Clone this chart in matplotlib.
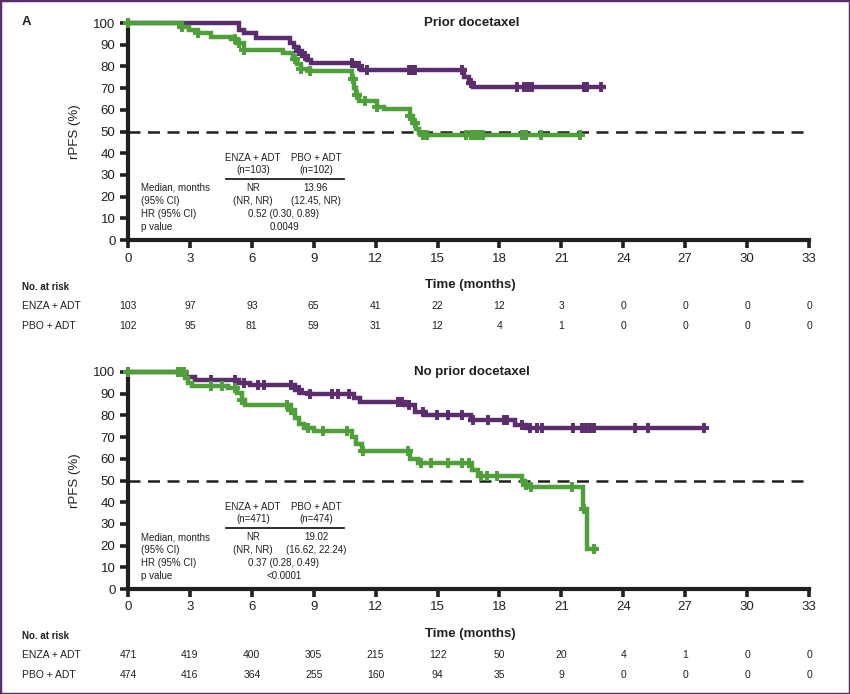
import numpy as np
import matplotlib
matplotlib.use("Agg")
import matplotlib.pyplot as plt
from matplotlib.patches import Rectangle

plt.rcParams['font.family'] = ['Liberation Sans', 'DejaVu Sans']

W, H = 850, 694
PURPLE = '#5c2d6e'
GREEN = '#4f9f3b'
INK = '#231f20'

months = [0, 3, 6, 9, 12, 15, 18, 21, 24, 27, 30, 33]
yticks = [0, 10, 20, 30, 40, 50, 60, 70, 80, 90, 100]

# ---- Prior docetaxel ----
enza1_t = [0, 5.4, 5.6, 6.2, 7.85, 8.05, 8.25, 8.45, 8.65, 8.85, 11.0, 11.3, 16.3, 16.5, 16.7]
enza1_s = [100, 97, 95.5, 93, 91, 89, 87, 85, 83, 81.5, 80, 78.5, 75, 72.5, 70.5]
enza1_end = 23.0
enza1_cens = [0, 8.3, 8.6, 10.85, 11.2, 11.6, 13.6, 13.75, 13.9, 16.2, 16.6, 18.85,
              19.2, 19.4, 19.6, 22.1, 22.25, 22.9]

pbo1_t = [0, 2.6, 2.95, 3.4, 4.0, 5.0, 5.3, 5.6, 7.5, 8.0, 8.2, 8.4, 8.8, 10.85, 10.95,
          11.05, 11.2, 12.05, 12.4, 13.65, 13.8, 13.95, 14.1, 14.25]
pbo1_s = [100, 98, 96.8, 95.2, 93.5, 92.5, 91, 87.5, 86, 83.5, 81, 79, 78, 74, 70,
          67, 64, 61.5, 60.2, 57, 54, 51, 49.5, 48.5]
pbo1_end = 21.9
pbo1_cens = [0, 2.6, 3.4, 5.2, 5.4, 5.6, 8.1, 8.4, 8.8, 10.9, 11.1, 11.5, 12.05, 13.65,
             13.9, 14.3, 14.5, 16.4, 16.6, 16.8, 17.0, 17.2, 19.1, 19.3, 20.0, 21.9]

risk1_enza = [103, 97, 93, 65, 41, 22, 12, 3, 0, 0, 0, 0]
risk1_pbo = [102, 95, 81, 59, 31, 12, 4, 1, 0, 0, 0, 0]
stats1 = ['(n=103)', '(n=102)', 'NR', '13.96', '(NR, NR)', '(12.45, NR)',
          '0.52 (0.30, 0.89)', '0.0049']

# ---- No prior docetaxel ----
enza2_t = [0, 2.8, 3.25, 5.4, 5.9, 8.1, 8.4, 8.8, 10.95, 11.25, 13.4, 13.9, 14.4,
           16.6, 18.75, 19.3]
enza2_s = [100, 97.7, 96.3, 95, 94, 91.7, 90.5, 90, 88, 86, 84.8, 81.5, 80.2,
           78, 75.6, 74]
enza2_end = 27.9
enza2_cens = [0, 2.5, 4.0, 5.2, 5.6, 6.3, 6.6, 7.9, 8.3, 8.8, 9.9, 10.2, 10.7, 13.1,
              13.3, 13.6, 14.3, 14.95, 15.5, 16.2, 16.7, 17.45, 18.2, 18.35, 19.1,
              19.5, 19.8, 20.05, 21.55, 22.0, 22.2, 22.4, 22.6, 24.55, 25.2, 27.9]

pbo2_t = [0, 2.75, 2.9, 3.1, 4.85, 5.3, 5.5, 5.67, 7.9, 8.1, 8.3, 8.55, 9.0, 10.85,
          11.05, 11.35, 13.65, 14.05, 16.65, 16.95, 19.1, 19.25, 19.5, 22.05, 22.25]
pbo2_s = [100, 97.2, 95, 93.5, 92.6, 90.3, 87, 84.8, 82.5, 79, 76, 74, 72.8, 70,
          67, 63.5, 60, 58, 55, 52, 50, 48, 47, 37, 18.5]
pbo2_end = 22.65
pbo2_cens = [0, 2.4, 2.55, 2.7, 4.0, 4.55, 5.2, 5.5, 7.7, 7.9, 8.7, 9.45, 10.6, 11.4,
             13.55, 14.2, 14.7, 15.5, 16.2, 16.5, 17.1, 17.4, 17.9, 19.3, 19.55,
             21.5, 22.1, 22.6]

risk2_enza = [471, 419, 400, 305, 215, 122, 50, 20, 4, 1, 0, 0]
risk2_pbo = [474, 416, 364, 255, 160, 94, 35, 9, 0, 0, 0, 0]
stats2 = ['(n=471)', '(n=474)', 'NR', '19.02', '(NR, NR)', '(16.62, 22.24)',
          '0.37 (0.28, 0.49)', '<0.0001']

row_labels = ['Median, months', '(95% CI)', 'HR (95% CI)', 'p value']


def fx(px):
    return px / W


def fy(py):
    return 1 - py / H


def km(ax, t, s, end, cens, color):
    t = np.asarray(t, float)
    s = np.asarray(s, float)
    tt = np.append(t, end)
    ss = np.append(s, s[-1])
    ax.step(tt, ss, where='post', color=color, lw=3.2, clip_on=False, zorder=3,
            solid_joinstyle='miter')
    c = np.asarray(cens, float)
    cy = s[np.searchsorted(t, c, side='right') - 1]
    ax.plot(c, cy, ls='none', marker='+', ms=7.5, mew=2.8, color=color,
            clip_on=False, zorder=4)


def panel(top, title, data, stats, risk_enza, risk_pbo):
    # top = pixel row of y=100
    ax = fig.add_axes([fx(128), fy(top + 217), fx(809) - fx(128), fy(top) - fy(top + 217)])
    ax.set_xlim(0, 33)
    ax.set_ylim(0, 100)
    for sp in ['top', 'right']:
        ax.spines[sp].set_visible(False)
    for sp in ['left', 'bottom']:
        ax.spines[sp].set_linewidth(3)
        ax.spines[sp].set_color(INK)
    ax.set_xticks(months)
    ax.set_yticks(yticks)
    ax.tick_params(length=6, width=2.6, color=INK, labelsize=9.5, labelcolor=INK, pad=3)
    ax.axhline(50, color=INK, lw=1.8, dashes=(4.8, 3), zorder=2)
    for t, s, end, cens, col in data:
        km(ax, t, s, end, cens, col)
    ax.set_ylabel('rPFS (%)', fontsize=9.5, color=INK, labelpad=9)
    ax.text(0.505, 1.0, title, transform=ax.transAxes, ha='center', va='center',
            fontsize=9.5, fontweight='bold', color=INK)

    # stats box
    y0 = top + 135
    tk = dict(fontsize=7, color=INK, va='center')
    c1, c2, cm = 253, 316, 284
    fig.text(fx(c1), fy(y0), 'ENZA + ADT', ha='center', **tk)
    fig.text(fx(c2), fy(y0), 'PBO + ADT', ha='center', **tk)
    fig.text(fx(c1), fy(y0 + 12), stats[0], ha='center', **tk)
    fig.text(fx(c2), fy(y0 + 12), stats[1], ha='center', **tk)
    fig.add_artist(plt.Line2D([fx(226), fx(344)], [fy(y0 + 21)] * 2, color=INK, lw=1.3))
    rows = [y0 + 30, y0 + 43, y0 + 56, y0 + 69]
    for lab, ry in zip(row_labels, rows):
        fig.text(fx(141), fy(ry), lab, ha='left', **tk)
    fig.text(fx(c1), fy(rows[0]), stats[2], ha='center', **tk)
    fig.text(fx(c2), fy(rows[0]), stats[3], ha='center', **tk)
    fig.text(fx(c1), fy(rows[1]), stats[4], ha='center', **tk)
    fig.text(fx(c2), fy(rows[1]), stats[5], ha='center', **tk)
    fig.text(fx(cm), fy(rows[2]), stats[6], ha='center', **tk)
    fig.text(fx(cm), fy(rows[3]), stats[7], ha='center', **tk)

    # number at risk
    narrow = ['Liberation Sans Narrow', 'Liberation Sans']
    base = top + 217
    fig.text(fx(470), fy(base + 45), 'Time (months)', ha='center', va='center',
             fontsize=9.5, fontweight='bold', color=INK)
    fig.text(fx(22), fy(base + 47), 'No. at risk', ha='left', va='center', fontsize=7,
             fontweight='bold', color=INK, family=narrow)
    for lab, vals, ry in [('ENZA + ADT', risk_enza, base + 66), ('PBO + ADT', risk_pbo, base + 86)]:
        fig.text(fx(22), fy(ry), lab, ha='left', va='center', fontsize=7.5,
                 color=INK, family=narrow)
        for m, v in zip(months, vals):
            xp = ax.transData.transform((m, 0))[0] / fig.bbox.width
            fig.text(xp, fy(ry), str(v), ha='center', va='center', fontsize=7.5,
                     color=INK, family=narrow)
    return ax


fig = plt.figure(figsize=(W / 100, H / 100), dpi=100)

panel(23, 'Prior docetaxel',
      [(enza1_t, enza1_s, enza1_end, enza1_cens, PURPLE),
       (pbo1_t, pbo1_s, pbo1_end, pbo1_cens, GREEN)],
      stats1, risk1_enza, risk1_pbo)
panel(372, 'No prior docetaxel',
      [(enza2_t, enza2_s, enza2_end, enza2_cens, PURPLE),
       (pbo2_t, pbo2_s, pbo2_end, pbo2_cens, GREEN)],
      stats2, risk2_enza, risk2_pbo)

fig.text(fx(22), fy(22), 'A', ha='left', va='center', fontsize=9.5,
         fontweight='bold', color=INK)

fig.add_artist(Rectangle((0, 0), 1, 1, transform=fig.transFigure, fill=False,
                         edgecolor=PURPLE, lw=2.5))

fig.savefig('out.png', dpi=100)
